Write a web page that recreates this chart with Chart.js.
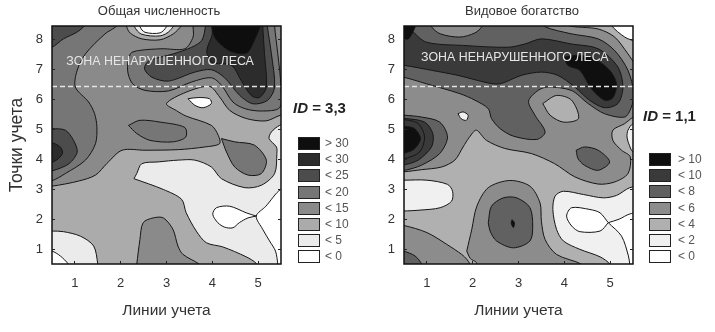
<!DOCTYPE html>
<html lang="en">

<head>
    <meta charset="UTF-8">
    <title>Общая численность / Видовое богатство</title>
    <script src="https://cdn.jsdelivr.net/npm/chart.js"></script>
    <style>
        html, body { margin: 0; background: #fff; }
        body { position: relative; width: 715px; height: 332px; overflow: hidden; font-family: "Liberation Sans", Arial, sans-serif; }
        canvas { position: absolute; top: 0; }
        #countChart { left: 0; }
        #richnessChart { left: 360px; }
        .swatch { position: absolute; width: 20px; height: 11px; border: 1px solid #222; }
        .key { position: absolute; font-size: 12px; line-height: 13px; color: #555; }
        .index { position: absolute; font-size: 15px; font-weight: bold; color: #222; white-space: nowrap; }
    </style>
</head>

<body>
    <canvas id="countChart" width="318" height="332"></canvas>
    <canvas id="richnessChart" width="324" height="332"></canvas>

    <script>
        const lineTicks = [1, 2, 3, 4, 5];
        const pointTicks = [1, 2, 3, 4, 5, 6, 7, 8];
        const forestEdge = 6.43;

        const countKeys = ['> 30', '< 30', '< 25', '< 20', '< 15', '< 10', '< 5', '< 0'];
        const richnessKeys = ['> 10', '< 10', '< 8', '< 6', '< 4', '< 2', '< 0'];

        // contour outlines, in survey line / survey point units
        const wholeField = [[-1, -1], [7, -1], [7, 10], [-1, 10]];

        const countUpper = [[0.3, 3.1], [0.5, 3.1], [1.08, 3.27], [1.45, 3.47], [1.7, 3.86], [2.03, 4.3], [2.53, 4.3], [3.26, 4.32], [3.84, 4.41], [4.16, 4.52], [4.13, 4.8], [3.98, 5.13], [3.43, 5.44], [3.22, 5.62], [3.0, 5.86], [3.43, 6.24], [3.94, 6.43], [4.16, 6.08], [4.38, 5.63], [4.74, 5.36], [5.17, 5.28], [5.49, 5.47], [5.7, 5.5], [5.7, 8.7], [0.3, 8.7], [0.3, 3.1]];
        const countOpenField = [[2.29, 3.35], [2.35, 3.52], [2.46, 3.85], [2.82, 3.91], [3.26, 3.97], [3.62, 3.97], [3.98, 3.74], [4.2, 3.35], [4.71, 3.05], [5.07, 3.13], [5.36, 3.52], [5.41, 4.19], [5.4, 4.41], [5.24, 4.69], [5.29, 4.91], [5.47, 5.13], [5.7, 5.2], [5.7, 0.3], [5.0, 0.3], [4.96, 0.52], [4.74, 0.74], [4.23, 1.07], [3.87, 1.21], [3.65, 1.6], [3.43, 2.21], [3.33, 2.66], [2.93, 2.99], [2.29, 3.35]];
        const countEastEmpty = [[5.7, 3.0], [5.49, 2.99], [5.17, 2.43], [4.96, 2.1], [5.1, 1.66], [5.25, 1.27], [5.38, 0.93], [5.43, 0.49], [5.43, 0.3], [5.7, 0.3], [5.7, 3.0]];
        const countGap = [[4.96, 2.1], [4.74, 2.21], [4.38, 2.43], [4.09, 2.38], [4.01, 2.16], [4.12, 1.88], [4.27, 1.73], [4.45, 1.71], [4.59, 1.88], [4.78, 2.04], [4.96, 2.1]];
        const countSouthWest = [[0.3, 1.6], [0.5, 1.6], [0.75, 1.58], [1.12, 1.43], [1.41, 1.1], [1.5, 0.49], [1.5, 0.3], [0.3, 0.3], [0.3, 1.6]];
        const countSouthWestEmpty = [[0.3, 0.95], [0.5, 0.93], [0.68, 0.77], [0.86, 0.49], [0.9, 0.3], [0.3, 0.3], [0.3, 0.95]];
        const countSouth = [[2.33, 0.3], [2.35, 0.49], [2.42, 1.32], [2.49, 1.88], [2.71, 2.04], [2.93, 2.04], [3.14, 1.66], [3.25, 1.1], [3.36, 0.82], [3.72, 0.49], [3.8, 0.3], [2.33, 0.3]];
        const countWest = [[2.05, 8.7], [1.88, 8.41], [1.66, 8.19], [1.23, 7.52], [1.05, 6.97], [1.01, 6.41], [1.3, 5.91], [1.43, 5.52], [1.48, 5.08], [1.45, 4.52], [1.23, 3.97], [0.79, 3.52], [0.5, 3.28], [0.3, 3.25], [0.3, 8.7], [2.05, 8.7]];
        const countCorner = [[0.3, 7.7], [0.5, 7.74], [0.75, 8.02], [1.04, 8.24], [1.22, 8.47], [1.3, 8.7], [0.3, 8.7], [0.3, 7.7]];
        const countWestCore = [[0.3, 5.02], [0.5, 5.02], [0.79, 4.97], [0.97, 4.63], [1.05, 4.24], [0.87, 3.85], [0.5, 3.61], [0.3, 3.6], [0.3, 5.02]];
        const countWestPeak = [[0.3, 4.55], [0.5, 4.55], [0.68, 4.41], [0.73, 4.19], [0.55, 3.93], [0.3, 3.9], [0.3, 4.55]];
        const countMiddle = [[2.17, 5.13], [2.42, 5.3], [2.86, 5.24], [3.4, 5.06], [3.42, 4.74], [3.14, 4.58], [2.64, 4.63], [2.35, 4.86], [2.17, 5.13]];
        const countEast = [[4.2, 4.69], [4.49, 4.58], [4.92, 4.47], [5.18, 3.97], [5.07, 3.52], [4.78, 3.47], [4.49, 3.74], [4.31, 4.24], [4.2, 4.69]];
        const countForest = [[3.58, 8.7], [3.58, 8.43], [3.58, 8.08], [3.4, 7.69], [2.9, 7.69], [2.39, 7.63], [2.21, 7.52], [2.15, 6.97], [2.26, 6.52], [2.53, 6.3], [3.04, 6.28], [3.55, 6.58], [3.98, 6.72], [4.2, 6.47], [4.45, 5.91], [4.71, 5.69], [5.07, 5.61], [5.47, 5.72], [5.5, 6.41], [5.43, 7.52], [5.36, 8.47], [5.38, 8.7], [3.58, 8.7]];
        const countForestDense = [[3.85, 8.7], [3.85, 8.43], [3.77, 7.97], [3.55, 7.74], [3.15, 7.52], [2.61, 7.28], [2.52, 7.02], [2.68, 6.74], [3.04, 6.61], [3.62, 6.91], [3.98, 6.99], [4.27, 6.72], [4.6, 6.13], [4.89, 5.85], [5.21, 5.97], [5.36, 6.41], [5.29, 7.52], [5.2, 8.47], [5.2, 8.7], [3.85, 8.7]];
        const countForestCore = [[3.95, 8.7], [4.0, 8.19], [3.88, 7.63], [3.98, 7.24], [4.42, 7.13], [4.63, 6.63], [4.85, 6.13], [5.03, 6.06], [5.18, 6.41], [5.14, 7.52], [5.1, 8.47], [5.1, 8.7], [3.95, 8.7]];
        const countForestPeak = [[3.98, 8.7], [4.05, 8.08], [4.38, 7.62], [4.75, 7.55], [4.95, 8.08], [5.05, 8.47], [5.05, 8.7], [3.98, 8.7]];
        const countNorthRing = [[2.12, 8.7], [2.13, 8.43], [2.21, 8.21], [2.46, 8.02], [2.86, 7.99], [3.15, 8.19], [3.33, 8.47], [3.4, 8.7], [2.12, 8.7]];
        const countNorthInner = [[2.28, 8.7], [2.3, 8.43], [2.45, 8.18], [2.86, 8.12], [3.08, 8.3], [3.2, 8.7], [2.28, 8.7]];
        const countNorthGap = [[2.4, 8.7], [2.42, 8.43], [2.53, 8.24], [2.86, 8.22], [3.0, 8.43], [3.05, 8.7], [2.4, 8.7]];
        const countWedgeGap = [[3.47, 6.02], [3.69, 6.06], [3.94, 6.02], [3.98, 5.86], [3.8, 5.72], [3.62, 5.8], [3.47, 6.02]];

        const countLayers = [
            [wholeField, '< 10'], [countUpper, '< 15'], [countOpenField, '< 5'], [countEastEmpty, '< 0'], [countGap, '< 0'],
            [countSouthWest, '< 5'], [countSouthWestEmpty, '< 0'], [countSouth, '< 15'], [countWest, '< 20'], [countCorner, '< 25'],
            [countWestCore, '< 25'], [countWestPeak, '< 30'], [countMiddle, '< 20'], [countEast, '< 20'],
            [countForest, '< 20'], [countForestDense, '< 25'], [countForestCore, '< 30'], [countForestPeak, '> 30'],
            [countNorthRing, '< 10'], [countNorthInner, '< 5'], [countNorthGap, '< 0'], [countWedgeGap, '< 0']
        ];

        const richUpper = [[0.3, 3.58], [0.5, 3.58], [0.88, 3.65], [1.32, 3.74], [1.61, 3.97], [1.79, 4.41], [1.93, 4.74], [2.08, 4.97], [2.3, 4.63], [2.7, 4.36], [3.28, 4.19], [3.79, 3.85], [4.23, 3.41], [4.74, 3.17], [5.1, 3.24], [5.39, 3.52], [5.44, 4.08], [5.25, 4.3], [5.06, 4.63], [5.06, 4.97], [5.32, 5.19], [5.5, 5.41], [5.7, 5.6], [5.7, 8.7], [0.3, 8.7], [0.3, 3.58]];
        const richEastBay = [[5.7, 5.25], [5.5, 5.19], [5.39, 4.97], [5.37, 4.74], [5.42, 4.47], [5.5, 4.24], [5.7, 4.2], [5.7, 5.25]];
        const richOpenField = [[5.7, 3.1], [5.43, 3.05], [5.14, 2.79], [4.85, 2.71], [4.42, 2.82], [3.98, 2.93], [3.8, 2.77], [3.75, 2.32], [3.83, 1.66], [3.98, 1.27], [4.34, 0.99], [4.78, 0.74], [5.0, 0.49], [5.0, 0.3], [5.7, 0.3], [5.7, 3.1]];
        const richGap = [[4.96, 1.88], [4.78, 2.21], [4.56, 2.32], [4.16, 2.38], [4.05, 2.1], [4.16, 1.77], [4.34, 1.58], [4.78, 1.6], [4.96, 1.88]];
        const richEastEmpty = [[4.96, 1.88], [5.25, 1.43], [5.4, 0.77], [5.43, 0.49], [5.45, 0.3], [5.7, 0.3], [5.7, 2.2], [5.43, 2.17], [5.2, 2.0], [4.96, 1.88]];
        const richWestBay = [[0.3, 3.3], [0.49, 3.3], [1.0, 3.3], [1.45, 3.16], [1.56, 2.93], [1.54, 2.6], [1.29, 2.38], [0.85, 2.3], [0.49, 2.27], [0.3, 2.27], [0.3, 3.3]];
        const richCentre = [[1.87, 0.93], [1.98, 1.66], [2.09, 2.43], [2.34, 3.05], [2.81, 3.29], [3.25, 3.1], [3.47, 2.54], [3.5, 1.93], [3.58, 1.32], [3.83, 0.82], [4.38, 0.49], [4.4, 0.3], [2.1, 0.3], [2.08, 0.55], [1.95, 0.68], [1.87, 0.93]];
        const richCentreCore = [[2.34, 1.88], [2.41, 2.43], [2.67, 2.71], [2.96, 2.71], [3.25, 2.38], [3.31, 1.77], [3.25, 1.27], [2.89, 1.04], [2.52, 1.27], [2.38, 1.6], [2.34, 1.88]];
        const richCentreFleck = [[2.86, 1.98], [2.91, 1.88], [2.89, 1.72], [2.84, 1.86], [2.86, 1.98]];
        const richSouthWest = [[0.3, 1.8], [0.49, 1.79], [1.0, 1.55], [1.43, 1.16], [1.76, 0.82], [1.87, 0.66], [1.94, 0.49], [1.96, 0.3], [0.3, 0.3], [0.3, 1.8]];
        const richSouthCorner = [[0.3, 0.95], [0.49, 0.93], [0.74, 0.77], [0.89, 0.49], [0.92, 0.3], [0.3, 0.3], [0.3, 0.95]];
        const richSpot = [[4.26, 4.3], [4.44, 4.41], [4.74, 4.3], [4.99, 3.91], [4.74, 3.63], [4.44, 3.8], [4.3, 4.02], [4.26, 4.3]];
        const richIslet = [[3.53, 5.86], [3.83, 6.13], [4.16, 5.97], [4.31, 5.36], [3.98, 5.24], [3.69, 5.47], [3.53, 5.86]];
        const richForest = [[0.3, 6.76], [0.49, 6.74], [0.99, 6.52], [1.72, 6.19], [2.05, 5.97], [2.34, 5.69], [2.41, 5.36], [2.6, 5.02], [2.89, 4.77], [3.4, 4.66], [3.58, 4.91], [3.36, 5.47], [3.22, 5.94], [3.43, 6.3], [3.64, 6.41], [4.15, 6.3], [4.52, 5.86], [4.88, 5.52], [5.32, 5.41], [5.46, 5.72], [5.52, 6.19], [5.39, 6.97], [5.1, 7.63], [4.74, 8.02], [4.15, 8.19], [3.57, 8.43], [3.43, 8.7], [0.3, 8.7], [0.3, 6.76]];
        const richForestDense = [[0.3, 7.15], [0.52, 7.13], [1.1, 6.97], [1.68, 6.8], [2.33, 6.55], [2.6, 6.52], [3.06, 6.8], [3.5, 6.91], [3.86, 6.8], [4.23, 6.41], [4.55, 5.97], [4.88, 5.72], [5.17, 5.86], [5.28, 6.41], [5.17, 7.08], [4.74, 7.69], [4.15, 7.85], [3.5, 8.02], [3.14, 7.85], [2.77, 7.74], [1.8, 7.8], [0.99, 7.91], [0.67, 8.3], [0.63, 8.43], [0.6, 8.7], [0.3, 8.7], [0.3, 7.15]];
        const richForestPeak = [[4.0, 7.41], [4.3, 7.47], [4.66, 7.35], [4.99, 6.97], [5.14, 6.52], [5.06, 6.05], [4.88, 5.97], [4.59, 6.36], [4.34, 6.97], [4.08, 7.13], [4.0, 7.41]];
        const richCorner = [[0.3, 8.0], [0.5, 8.0], [0.6, 8.02], [0.74, 8.41], [0.78, 8.7], [0.3, 8.7], [0.3, 8.0]];
        const richNorth = [[1.08, 8.7], [1.1, 8.43], [1.29, 8.19], [1.72, 8.08], [2.05, 8.22], [2.2, 8.43], [2.25, 8.7], [1.08, 8.7]];
        const richNorthEast = [[4.08, 8.7], [4.08, 8.47], [4.74, 8.35], [5.1, 8.08], [5.39, 7.52], [5.55, 7.19], [5.7, 7.15], [5.7, 8.7], [4.08, 8.7]];
        const richNorthEastEmpty = [[5.03, 8.7], [5.03, 8.47], [5.32, 8.08], [5.55, 7.94], [5.7, 7.9], [5.7, 8.7], [5.03, 8.7]];
        const richWestRing = [[0.3, 5.5], [0.52, 5.47], [0.88, 5.41], [1.28, 5.24], [1.45, 4.74], [1.28, 4.19], [0.88, 3.8], [0.52, 3.63], [0.3, 3.63], [0.3, 5.5]];
        const richWestMid = [[0.3, 5.36], [0.52, 5.36], [0.95, 5.24], [1.13, 4.85], [1.1, 4.41], [0.81, 3.97], [0.52, 3.82], [0.3, 3.82], [0.3, 5.36]];
        const richWestInner = [[0.3, 5.32], [0.52, 5.32], [0.81, 5.19], [0.95, 4.74], [0.84, 4.24], [0.52, 4.02], [0.3, 4.02], [0.3, 5.32]];
        const richWestPeak = [[0.3, 5.1], [0.52, 5.1], [0.73, 5.02], [0.86, 4.69], [0.73, 4.35], [0.52, 4.21], [0.3, 4.21], [0.3, 5.1]];
        const richFleck = [[1.68, 5.52], [1.79, 5.58], [1.9, 5.47], [1.86, 5.3], [1.75, 5.35], [1.68, 5.52]];

        const richnessLayers = [
            [wholeField, '< 4'], [richUpper, '< 6'], [richEastBay, '< 2'], [richOpenField, '< 2'], [richGap, '< 0'], [richEastEmpty, '< 0'],
            [richWestBay, '< 2'], [richCentre, '< 6'], [richCentreCore, '< 8'], [richCentreFleck, '> 10'], [richSouthWest, '< 6'], [richSouthCorner, '< 8'],
            [richSpot, '< 8'], [richForest, '< 8'], [richIslet, '< 4'], [richForestDense, '< 10'], [richForestPeak, '> 10'],
            [richCorner, '> 10'], [richNorth, '< 6'], [richNorthEast, '< 4'], [richNorthEastEmpty, '< 0'],
            [richWestRing, '< 8'], [richWestMid, '< 10'], [richWestInner, '< 10'], [richWestPeak, '> 10'], [richFleck, '< 2']
        ];

        const countShades = { '> 30': '#0e0e0e', '< 30': '#2c2c2c', '< 25': '#4c4c4c', '< 20': '#767676', '< 15': '#8a8a8a', '< 10': '#ababab', '< 5': '#ebebeb', '< 0': '#ffffff' };
        const richnessShades = { '> 10': '#0f0f0f', '< 10': '#3a3a3a', '< 8': '#616161', '< 6': '#8c8c8c', '< 4': '#b0b0b0', '< 2': '#f0f0f0', '< 0': '#ffffff' };

        function contourSets(layers, shades) {
            const sets = layers.map(([outline, level]) => ({
                data: outline.map(([x, y]) => ({ x, y })),
                showLine: true,
                fill: 'shape',
                backgroundColor: shades[level],
                borderColor: outline === wholeField ? 'rgba(0,0,0,0)' : '#161616',
                borderWidth: 1,
                tension: outline === wholeField ? 0 : 0.3,
                capBezierPoints: false,
                pointRadius: 0
            }));
            sets.push({
                data: [{ x: 0.5, y: forestEdge }, { x: 5.56, y: forestEdge }],
                showLine: true,
                borderColor: '#e4e4e4',
                borderWidth: 1.5,
                borderDash: [5, 3],
                pointRadius: 0,
                clip: false
            });
            // chart.js paints the first dataset last
            return sets.reverse();
        }

        function frameAndZone(zoneX, zoneY) {
            return {
                id: 'frameAndZone',
                afterDatasetsDraw(chart) {
                    const { ctx, chartArea: a, scales } = chart;
                    ctx.save();
                    ctx.strokeStyle = '#111';
                    ctx.lineWidth = 1.5;
                    ctx.strokeRect(a.left, a.top, a.right - a.left, a.bottom - a.top);
                    ctx.fillStyle = '#e6e6e6';
                    ctx.font = '12.4px "Liberation Sans"';
                    ctx.textAlign = 'center';
                    ctx.textBaseline = 'middle';
                    ctx.fillText('ЗОНА НЕНАРУШЕННОГО ЛЕСА', scales.x.getPixelForValue(zoneX), scales.y.getPixelForValue(zoneY));
                    ctx.restore();
                }
            };
        }

        const tickGrid = { drawOnChartArea: false, tickLength: -3, tickColor: '#222', z: 1 };
        const tickFont = { family: '"Liberation Sans"', size: 13 };

        function drawPanel(id, title, layers, shades, axisWidth, rightGap, yTitle, zoneX, zoneY) {
            new Chart(document.getElementById(id), {
                type: 'scatter',
                data: { datasets: contourSets(layers, shades) },
                plugins: [frameAndZone(zoneX, zoneY)],
                options: {
                    responsive: false,
                    animation: false,
                    events: [],
                    plugins: {
                        legend: { display: false },
                        tooltip: { enabled: false },
                        title: {
                            display: true,
                            text: title,
                            color: '#333',
                            font: { family: '"Liberation Sans"', size: 13, weight: 'normal' },
                            padding: { top: 4, bottom: 6.4 }
                        }
                    },
                    scales: {
                        x: {
                            type: 'linear',
                            min: 0.5,
                            max: 5.5,
                            border: { display: false },
                            grid: tickGrid,
                            afterBuildTicks: axis => { axis.ticks = lineTicks.map(value => ({ value })); },
                            afterFit: axis => { axis.height = 68; },
                            ticks: { color: '#333', font: tickFont, padding: 15, maxRotation: 0 },
                            title: { display: true, text: 'Линии учета', color: '#333', font: { family: '"Liberation Sans"', size: 15.5 }, padding: { top: 0, bottom: 12 } }
                        },
                        y: {
                            type: 'linear',
                            min: 0.5,
                            max: 8.45,
                            border: { display: false },
                            grid: tickGrid,
                            afterBuildTicks: axis => { axis.ticks = pointTicks.map(value => ({ value })); },
                            afterFit: axis => { axis.width = axisWidth; },
                            ticks: { color: '#333', font: tickFont, padding: 12 },
                            title: { display: yTitle !== '', text: yTitle, color: '#333', font: { family: '"Liberation Sans"', size: 17.5 }, padding: { top: 7, bottom: 0 } }
                        },
                        mirror: {
                            type: 'linear',
                            position: 'right',
                            min: 0.5,
                            max: 8.45,
                            border: { display: false },
                            grid: tickGrid,
                            afterBuildTicks: axis => { axis.ticks = pointTicks.map(value => ({ value })); },
                            afterFit: axis => { axis.width = rightGap; },
                            ticks: { display: false }
                        }
                    }
                }
            });
        }

        function drawKey(keys, shades, boxX, textX, firstY) {
            keys.forEach((key, i) => {
                const y = firstY + i * 16.2;
                const box = document.createElement('div');
                box.className = 'swatch';
                box.style.cssText = `left:${boxX}px;top:${y}px;background:${shades[key]}`;
                const label = document.createElement('div');
                label.className = 'key';
                label.style.cssText = `left:${textX}px;top:${y}px`;
                label.textContent = key;
                document.body.append(box, label);
            });
        }

        function drawIndex(value, x, y) {
            const tag = document.createElement('div');
            tag.className = 'index';
            tag.style.cssText = `left:${x}px;top:${y}px`;
            tag.innerHTML = `<i>ID</i> = ${value}`;
            document.body.append(tag);
        }

        drawPanel('countChart', 'Общая численность', countLayers, countShades, 52, 37, 'Точки учета', 2.86, 7.27);
        drawPanel('richnessChart', 'Видовое богатство', richnessLayers, richnessShades, 44, 51, '', 2.92, 7.4);
        drawKey(countKeys, countShades, 298, 325, 137);
        drawKey(richnessKeys, richnessShades, 649, 678, 153);
        drawIndex('3,3', 293, 99);
        drawIndex('1,1', 643, 107);
    </script>
</body>

</html>
